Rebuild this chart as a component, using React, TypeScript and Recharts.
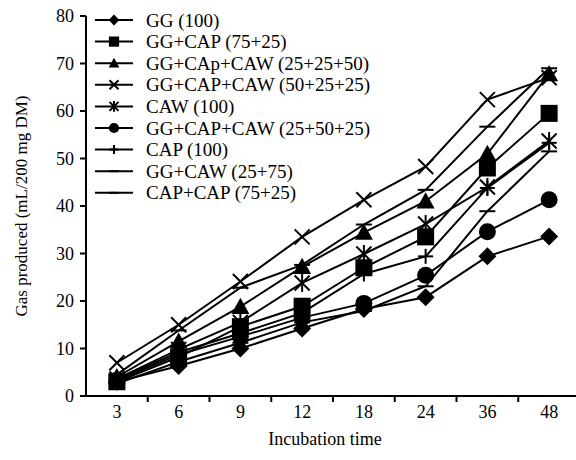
import React from 'react';
import { LineChart, Line, XAxis, YAxis, Legend } from 'recharts';

// incubation time (h)
const CATEGORIES = ['3', '6', '9', '12', '18', '24', '36', '48'];
const Y_TICKS = [0, 10, 20, 30, 40, 50, 60, 70, 80];

// gas produced, mL/200 mg DM
const GG_100 = [3.0, 6.3, 10.0, 14.2, 18.3, 20.8, 29.4, 33.6];
const GG_CAP_75_25 = [3.0, 8.2, 14.6, 18.9, 27.0, 33.5, 48.0, 59.5];
const GG_CAP_CAW_25_25_50 = [4.0, 11.5, 18.8, 27.2, 34.4, 41.0, 51.0, 67.8];
const GG_CAP_CAW_50_25_25 = [7.0, 15.0, 24.1, 33.5, 41.3, 48.3, 62.4, 67.0];
const CAW_100 = [3.6, 9.8, 15.5, 23.8, 29.9, 36.2, 44.0, 53.7];
const GG_CAP_CAW_25_50_25 = [3.3, 8.7, 12.5, 16.5, 19.5, 25.4, 34.6, 41.3];
const CAP_100 = [3.5, 9.2, 13.2, 17.5, 25.7, 29.4, 43.8, 53.3];
const GG_CAW_25_75 = [4.5, 13.8, 22.8, 27.6, 36.1, 43.4, 56.7, 69.0];
const CAP_CAP_75_25 = [2.6, 7.2, 11.2, 15.5, 17.9, 23.1, 38.9, 51.5];

const SERIES = [
  { key: 's1', name: 'GG (100)', values: GG_100 },
  { key: 's2', name: 'GG+CAP (75+25)', values: GG_CAP_75_25 },
  { key: 's3', name: 'GG+CAp+CAW (25+25+50)', values: GG_CAP_CAW_25_25_50 },
  { key: 's4', name: 'GG+CAP+CAW (50+25+25)', values: GG_CAP_CAW_50_25_25 },
  { key: 's5', name: 'CAW (100)', values: CAW_100 },
  { key: 's6', name: 'GG+CAP+CAW (25+50+25)', values: GG_CAP_CAW_25_50_25 },
  { key: 's7', name: 'CAP (100)', values: CAP_100 },
  { key: 's8', name: 'GG+CAW (25+75)', values: GG_CAW_25_75 },
  { key: 's9', name: 'CAP+CAP (75+25)', values: CAP_CAP_75_25 },
];

const MARKERS: Record<string, string> = {
  s1: 'diamond',
  s2: 'square',
  s3: 'triangle',
  s4: 'cross',
  s5: 'star',
  s6: 'circle',
  s7: 'plus',
  s8: 'dash',
  s9: 'dash',
};

const data = CATEGORIES.map((cat, i) => {
  const row: Record<string, string | number> = { cat };
  SERIES.forEach(s => {
    row[s.key] = s.values[i];
  });
  return row;
});

const W = 580;
const H = 460;
const Y_AXIS_W = 86;
const X_AXIS_H = 40;
const MARGIN = { top: 16, right: 0, bottom: 24, left: 0 };
const AXIS_Y = H - MARGIN.bottom - X_AXIS_H;
const BAND = (W - Y_AXIS_W) / CATEGORIES.length;
const FONT = '"Liberation Serif", "Times New Roman", serif';

function Marker({ type, cx, cy, big }: { type: string; cx: number; cy: number; big: boolean }) {
  const k = big ? 1 : 0.6;
  const sw = 2;
  if (type === 'diamond') {
    const h = 9 * k;
    return <polygon points={`${cx},${cy - h} ${cx + h},${cy} ${cx},${cy + h} ${cx - h},${cy}`} fill="#000" />;
  }
  if (type === 'square') {
    const h = 8.5 * k;
    return <rect x={cx - h} y={cy - h} width={2 * h} height={2 * h} fill="#000" />;
  }
  if (type === 'triangle') {
    const h = 9 * k;
    return <polygon points={`${cx},${cy - h} ${cx + h},${cy + h * 0.8} ${cx - h},${cy + h * 0.8}`} fill="#000" />;
  }
  if (type === 'circle') {
    return <circle cx={cx} cy={cy} r={8.5 * k} fill="#000" />;
  }
  if (type === 'cross') {
    const h = 7.5 * k;
    return (
      <g stroke="#000" strokeWidth={sw}>
        <line x1={cx - h} y1={cy - h} x2={cx + h} y2={cy + h} />
        <line x1={cx - h} y1={cy + h} x2={cx + h} y2={cy - h} />
      </g>
    );
  }
  if (type === 'star') {
    const h = 7.5 * k;
    return (
      <g stroke="#000" strokeWidth={sw}>
        <line x1={cx - h} y1={cy - h} x2={cx + h} y2={cy + h} />
        <line x1={cx - h} y1={cy + h} x2={cx + h} y2={cy - h} />
        <line x1={cx} y1={cy - h * 1.2} x2={cx} y2={cy + h * 1.2} />
      </g>
    );
  }
  if (type === 'plus') {
    const h = 7.5 * k;
    return (
      <g stroke="#000" strokeWidth={sw}>
        <line x1={cx - h} y1={cy} x2={cx + h} y2={cy} />
        <line x1={cx} y1={cy - h} x2={cx} y2={cy + h} />
      </g>
    );
  }
  const h = 8 * k;
  return <line x1={cx - h} y1={cy} x2={cx + h} y2={cy} stroke="#000" strokeWidth={sw} />;
}

function XTick(props: any) {
  const { x, payload, index } = props;
  return (
    <g>
      <text x={x} y={AXIS_Y + 22} textAnchor="middle" fontFamily={FONT} fontSize={18} fill="#000">
        {payload.value}
      </text>
      {index < CATEGORIES.length - 1 && (
        <line x1={x + BAND / 2} x2={x + BAND / 2} y1={AXIS_Y} y2={AXIS_Y + 6} stroke="#000" strokeWidth={2} />
      )}
    </g>
  );
}

function XTitle() {
  return (
    <text x={Y_AXIS_W + (W - Y_AXIS_W) / 2 - 8} y={H - 15} textAnchor="middle" fontFamily={FONT} fontSize={18} fill="#000">
      Incubation time
    </text>
  );
}

function YTitle() {
  const cx = 21;
  const cy = MARGIN.top + (AXIS_Y - MARGIN.top) / 2;
  return (
    <text
      x={cx}
      y={cy}
      transform={`rotate(-90, ${cx}, ${cy})`}
      textAnchor="middle"
      dominantBaseline="central"
      fontFamily={FONT}
      fontSize={17}
      fill="#000"
    >
      Gas produced (mL/200 mg DM)
    </text>
  );
}

function LegendBox() {
  const top = 20;
  const step = 21.6;
  return (
    <svg width={420} height={215} style={{ display: 'block' }}>
      {SERIES.map((s, i) => {
        const cy = top + i * step;
        return (
          <g key={s.key}>
            <line x1={95} x2={133} y1={cy} y2={cy} stroke="#000" strokeWidth={2} />
            <Marker type={MARKERS[s.key]} cx={114} cy={cy} big={false} />
            <text x={146} y={cy} dominantBaseline="central" fontFamily={FONT} fontSize={19} fill="#000">
              {s.name}
            </text>
          </g>
        );
      })}
    </svg>
  );
}

export default function App() {
  return (
    <div style={{ position: 'absolute', left: 0, top: 0, width: 576, height: 460, overflow: 'hidden', background: '#fff' }}>
      <LineChart width={W} height={H} data={data} margin={MARGIN}>
        <XAxis
          dataKey="cat"
          interval={0}
          height={X_AXIS_H}
          padding={{ left: BAND / 2, right: BAND / 2 }}
          axisLine={{ stroke: '#000', strokeWidth: 2 }}
          tickLine={false}
          tick={<XTick />}
          label={<XTitle />}
        />
        <YAxis
          width={Y_AXIS_W}
          domain={[0, 80]}
          ticks={Y_TICKS}
          interval={0}
          axisLine={{ stroke: '#000', strokeWidth: 2 }}
          tickLine={{ stroke: '#000', strokeWidth: 2 }}
          tickSize={6}
          tickMargin={6}
          tick={{ fill: '#000', fontFamily: FONT, fontSize: 18 }}
          label={<YTitle />}
        />
        <Legend
          layout="horizontal"
          verticalAlign="middle"
          align="center"
          wrapperStyle={{ left: 0, top: 0, width: 420, height: 215 }}
          content={() => <LegendBox />}
        />
        {SERIES.map(s => (
          <Line
            key={s.key}
            dataKey={s.key}
            name={s.name}
            type="linear"
            stroke="#000"
            strokeWidth={2}
            isAnimationActive={false}
            activeDot={false}
            dot={(p: any) => (
              <Marker key={`${s.key}-${p.index}`} type={MARKERS[s.key]} cx={p.cx} cy={p.cy} big />
            )}
          />
        ))}
      </LineChart>
    </div>
  );
}
